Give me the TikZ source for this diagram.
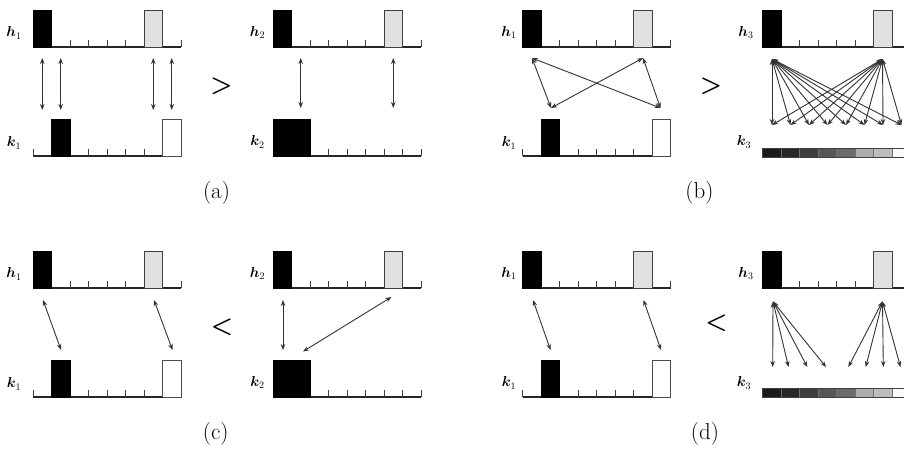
\documentclass[tikz,border=0pt]{standalone}
\usepackage{bm}
\usetikzlibrary{arrows.meta}
\tikzset{
  axisline/.style={line width=1.1pt, draw=black!85},
  histtick/.style={line width=0.9pt, draw=black!75},
  blackbar/.style={fill=black, draw=black, line width=1pt},
  graybar/.style={fill=black!12, draw=black!75, line width=1pt},
  whitebar/.style={fill=white, draw=black!70, line width=1pt},
  dbl/.style={{Stealth[length=6pt,width=4.5pt]}-{Stealth[length=6pt,width=4.5pt]}, line width=0.9pt, draw=black!80},
  lab/.style={font=\fontsize{14}{16}\selectfont, inner sep=0pt},
  cmp/.style={font=\fontsize{46}{46}\selectfont\boldmath, inner sep=0pt},
  captext/.style={font=\fontsize{23}{27}\selectfont, inner sep=0pt},
  cell/.style={draw=black!55, line width=0.6pt},
  cellframe/.style={draw=black!75, line width=0.9pt}
}
\newcommand{\histaxis}[2]{%
  \draw[axisline] (#1,#2) -- ++(148,0);
  \foreach \i in {0,...,8} \draw[histtick] (#1+\i*18.5,#2) -- ++(0,-7);
}
\newcommand{\gradbar}[2]{%
  \foreach \c [count=\j from 0] in {90,85,76,66,58,32,26,2}
    \draw[cell, fill=black!\c] (#1+\j*18.5,#2) rectangle ++(18.5,9);
  \draw[cellframe] (#1,#2) rectangle ++(148,9);
}
\begin{document}
\begin{tikzpicture}[x=1pt,y=-1pt]
\useasboundingbox (0,0) rectangle (904,450);
\fill[white] (0,0) rectangle (904,450);
\clip (0,0) rectangle (904,450);

% ---------------- (a) ----------------
\histaxis{33}{47}
\draw[blackbar] (33,47) rectangle ++(18.5,-37);
\draw[graybar] (144,47) rectangle ++(18.5,-37);
\histaxis{33}{156}
\draw[blackbar] (51.5,156) rectangle ++(18.5,-37);
\draw[whitebar] (162.5,156) rectangle ++(18.5,-37);
\node[lab] (ah1) at (14,33) {$\bm{h}_1$};
\node[lab] (ak1) at (14,143) {$\bm{k}_1$};
\foreach \x [count=\n] in {42.25,60.75,153.25,171.75} {
  \coordinate (at\n) at (\x,58);
  \coordinate (ab\n) at (\x,110);
  \draw[dbl] (at\n) -- (ab\n);
}
\node[cmp] (agt) at (221.5,86) {$>$};
\histaxis{273}{47}
\draw[blackbar] (273,47) rectangle ++(18.5,-37);
\draw[graybar] (384,47) rectangle ++(18.5,-37);
\histaxis{273}{156}
\draw[blackbar] (273,156) rectangle ++(37,-37);
\node[lab] (ah2) at (257.5,32.5) {$\bm{h}_2$};
\node[lab] (ak2) at (257.5,142) {$\bm{k}_2$};
\foreach \x [count=\n] in {300.75,393.25} {
  \coordinate (art\n) at (\x,58);
  \coordinate (arb\n) at (\x,108);
  \draw[dbl] (art\n) -- (arb\n);
}
\node[captext] (capa) at (216.5,193) {(a)};

% ---------------- (b) ----------------
\histaxis{522.5}{47}
\draw[blackbar] (522.5,47) rectangle ++(18.5,-37);
\draw[graybar] (633.5,47) rectangle ++(18.5,-37);
\histaxis{522.5}{156}
\draw[blackbar] (541,156) rectangle ++(18.5,-37);
\draw[whitebar] (652,156) rectangle ++(18.5,-37);
\node[lab] (bh1) at (509,32.5) {$\bm{h}_1$};
\node[lab] (bk1) at (509,143) {$\bm{k}_1$};
\coordinate (bt1) at (532,58);
\coordinate (bt2) at (643,58);
\coordinate (bb1) at (551,108);
\coordinate (bb2) at (660.5,108);
\draw[dbl] (bt1) -- (bb1);
\draw[dbl] (bt1) -- (bb2);
\draw[dbl] (bt2) -- (bb1);
\draw[dbl] (bt2) -- (bb2);
\node[cmp] (bgt) at (711,86) {$>$};
\histaxis{762.5}{47}
\draw[blackbar] (762.5,47) rectangle ++(18.5,-37);
\draw[graybar] (873.5,47) rectangle ++(18.5,-37);
\gradbar{762.5}{148}
\node[lab] (bh3) at (746,32.5) {$\bm{h}_3$};
\node[lab] (bk3) at (744,142) {$\bm{k}_3$};
\coordinate (brt1) at (772,59);
\coordinate (brt2) at (882.5,59);
\foreach \n in {0,...,7} {
  \coordinate (brb\n) at (772+\n*18.5,125);
  \draw[dbl] (brt1) -- (brb\n);
  \draw[dbl] (brt2) -- (brb\n);
}
\node[captext] (capb) at (699.5,193) {(b)};

% ---------------- (c) ----------------
\histaxis{33}{288}
\draw[blackbar] (33,288) rectangle ++(18.5,-37);
\draw[graybar] (144,288) rectangle ++(18.5,-37);
\histaxis{33}{397}
\draw[blackbar] (51.5,397) rectangle ++(18.5,-37);
\draw[whitebar] (162.5,397) rectangle ++(18.5,-37);
\node[lab] (ch1) at (14,274) {$\bm{h}_1$};
\node[lab] (ck1) at (14,384) {$\bm{k}_1$};
\coordinate (ct1) at (43,300);
\coordinate (cb1) at (61,350);
\coordinate (ct2) at (154,300);
\coordinate (cb2) at (172.5,350);
\draw[dbl] (ct1) -- (cb1);
\draw[dbl] (ct2) -- (cb2);
\node[cmp] (clt) at (222,327.5) {$<$};
\histaxis{273}{288}
\draw[blackbar] (273,288) rectangle ++(18.5,-37);
\draw[graybar] (384,288) rectangle ++(18.5,-37);
\histaxis{273}{397}
\draw[blackbar] (273,397) rectangle ++(37,-37);
\node[lab] (ch2) at (257.5,273.5) {$\bm{h}_2$};
\node[lab] (ck2) at (257.5,382.5) {$\bm{k}_2$};
\coordinate (crt1) at (283,300);
\coordinate (crb1) at (283,350);
\coordinate (crt2) at (391.5,297);
\coordinate (crb2) at (303,351.5);
\draw[dbl] (crt1) -- (crb1);
\draw[dbl] (crt2) -- (crb2);
\node[captext] (capc) at (215.7,434) {(c)};

% ---------------- (d) ----------------
\histaxis{522.5}{288}
\draw[blackbar] (522.5,288) rectangle ++(18.5,-37);
\draw[graybar] (633.5,288) rectangle ++(18.5,-37);
\histaxis{522.5}{397}
\draw[blackbar] (541,397) rectangle ++(18.5,-37);
\draw[whitebar] (652,397) rectangle ++(18.5,-37);
\node[lab] (dh1) at (509,273.5) {$\bm{h}_1$};
\node[lab] (dk1) at (509,383) {$\bm{k}_1$};
\coordinate (dt1) at (533,300);
\coordinate (db1) at (550.5,350);
\coordinate (dt2) at (643.5,300);
\coordinate (db2) at (661,350);
\draw[dbl] (dt1) -- (db1);
\draw[dbl] (dt2) -- (db2);
\node[cmp] (dlt) at (716.5,323.5) {$<$};
\histaxis{762.5}{288}
\draw[blackbar] (762.5,288) rectangle ++(18.5,-37);
\draw[graybar] (873.5,288) rectangle ++(18.5,-37);
\gradbar{762.5}{388.5}
\node[lab] (dh3) at (746,273.5) {$\bm{h}_3$};
\node[lab] (dk3) at (744,383) {$\bm{k}_3$};
\coordinate (drt1) at (773,301.5);
\coordinate (drt2) at (882.5,301.5);
\foreach \x [count=\n] in {772.7,788.5,807.3,826} {
  \coordinate (drb\n) at (\x,367);
  \draw[dbl] (drt1) -- (drb\n);
}
\foreach \x [count=\n] in {848.3,865.7,883.3,900.5} {
  \coordinate (drc\n) at (\x,367);
  \draw[dbl] (drt2) -- (drc\n);
}
\node[captext] (capd) at (705,434) {(d)};
\end{tikzpicture}
\end{document}
